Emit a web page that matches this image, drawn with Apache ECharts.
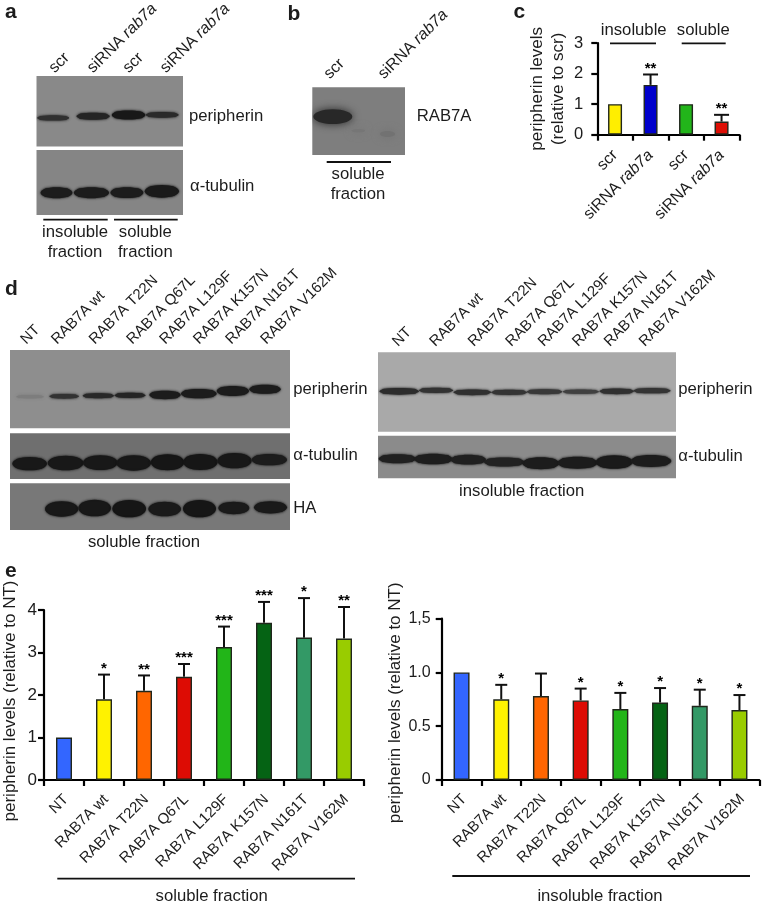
<!DOCTYPE html>
<html><head><meta charset="utf-8">
<style>html,body{margin:0;padding:0;background:#fff}#c{width:762px;height:903px}</style>
<script src="https://cdn.jsdelivr.net/npm/echarts@6/dist/echarts.min.js"></script>
</head><body><div id="c"></div>
<script>
// ---- quantified bar data ----
const cCats = ['scr','siRNA rab7a','scr','siRNA rab7a'];
const cValues = [1,1.63,1,0.43];
const cErrTop = [null,1.97,null,0.65];
const cStars = ['','**','','**'];
const cColors = ['#ffee00','#0000cc','#22b51a','#dd0f05'];
const mutants = ['NT','RAB7A wt','RAB7A T22N','RAB7A Q67L','RAB7A L129F','RAB7A K157N','RAB7A N161T','RAB7A V162M'];
const mutColors = ['#3366ff','#fff200','#ff6600','#dd0c04','#22b518','#056314','#339966','#99cc00'];
const solValues = [1,1.9,2.1,2.43,3.13,3.7,3.35,3.33];
const solErrTop = [null,2.48,2.46,2.73,3.61,4.19,4.28,4.07];
const solStars = ['','*','**','***','***','***','*','**'];
const insValues = [1,0.75,0.78,0.74,0.66,0.72,0.69,0.65];
const insErrTop = [null,0.885,0.99,0.85,0.81,0.855,0.84,0.79];
const insStars = ['','*','','*','*','*','*','*'];
const insTickLabels = ['0','0.5','1.0','1,5'];

// ---- blot bands: [laneStart, laneEnd, bandCentre, thickness, grey] ----
const aPeripherin = [[112,208,354,16,48],[230,330,349,21,36],[336,437,345,27,24],[438,537,345,17,42]];
const aTubulin = [[122,218,578,33,28],[222,328,578,33,28],[332,431,578,32,28],[435,538,574,38,26]];
const bRab7a = [[70,187,350,44,40],[185,225,392,10,118],[270,315,402,18,114]];
const dSolPeripherin = [[48,132,380,9,125],[148,237,379,14,50],[248,342,377,15,40],[343,437,376,16,36],[448,542,375,25,28],[543,650,371,28,28],[650,747,363,30,28],[748,842,358,27,28]];
const dSolTubulin = [[37,141,581,40,24],[143,251,579,44,24],[249,353,578,44,24],[349,453,579,46,24],[452,553,577,48,22],[549,653,576,48,22],[652,755,572,46,24],[755,861,569,34,28]];
const dSolHA = [[135,235,717,46,24],[235,333,714,50,24],[337,438,716,52,22],[445,543,717,44,26],[549,648,716,52,22],[655,748,714,37,26],[762,861,712,37,26]];
const dInsPeripherin = [[28,147,364,20,44],[146,250,361,16,50],[250,364,367,17,48],[363,472,367,16,52],[470,577,365,15,56],[578,687,365,13,64],[688,792,364,17,48],[790,902,362,16,52]];
const dInsTubulin = [[26,138,566,27,32],[132,248,567,32,30],[242,348,569,29,32],[342,463,576,27,34],[457,568,580,36,28],[562,683,578,36,28],[677,788,576,41,26],[782,904,573,36,28]];

// ---- text ----
const aLaneLabels = ['scr','siRNA rab7a','scr','siRNA rab7a'];
const bLaneLabels = ['scr','siRNA rab7a'];
const dLaneLabels = mutants;

const FONT = '"Liberation Sans", Arial, sans-serif';
const INK = '#1c1c1c';

function italicise(s){ return s.replace('rab7a','{i|rab7a}'); }
const richI = {i:{fontStyle:'italic',fontSize:16,fontFamily:FONT,fill:INK,color:INK}};

const grids=[], xAxes=[], yAxes=[], series=[];

function addBlot(rect, xr, yr, bg, bands, blur){
  const g = grids.length;
  grids.push({show:true,left:rect[0],top:rect[1],width:rect[2],height:rect[3],backgroundColor:bg,borderWidth:0,containLabel:false,outerBoundsMode:'none'});
  xAxes.push({gridIndex:g,type:'value',show:false,min:xr[0],max:xr[1]});
  yAxes.push({gridIndex:g,type:'value',show:false,min:yr[0],max:yr[1],inverse:true});
  series.push({type:'custom',xAxisIndex:g,yAxisIndex:g,clip:true,silent:true,data:bands,
    encode:{x:[0,1],y:2},
    renderItem:function(p,api){
      const a=api.coord([api.value(0),api.value(2)]), b=api.coord([api.value(1),api.value(2)]);
      const t=api.size([0,api.value(3)])[1];
      const v=api.value(4), col='rgb('+v+','+v+','+v+')', w=b[0]-a[0];
      const st={fill:col,shadowBlur:blur||2.5,shadowColor:col};
      const kids=[{type:'ellipse',shape:{cx:a[0]+w/2,cy:a[1],rx:w/2,ry:t/2},style:st}];
      if(!blur) kids.push({type:'rect',shape:{x:a[0]+w*0.06,y:a[1]-t*0.38,width:w*0.88,height:t*0.76,r:t*0.38},style:st});
      return {type:'group',children:kids};
    }});
}

function addBars(rect, cats, colors, vals, tops, stars, yCfg, o){
  const g = grids.length;
  grids.push({left:rect[0],top:rect[1],width:rect[2],height:rect[3],containLabel:false,outerBoundsMode:'none'});
  xAxes.push({gridIndex:g,type:'category',data:cats,
    axisLine:{lineStyle:{color:'#000',width:2.2}},
    axisTick:{show:true,length:6,lineStyle:{color:'#000',width:2.2}},
    axisLabel:{interval:0,rotate:45,margin:o.xMargin,padding:[o.xPad||0,0,0,0],fontSize:o.xFont,fontFamily:FONT,color:INK,
      formatter:function(v){return italicise(v);},
      rich:{i:{fontStyle:'italic',fontSize:o.xFont,fontFamily:FONT,color:INK}}}});
  yAxes.push({gridIndex:g,type:'value',min:0,max:yCfg.max,interval:yCfg.interval,splitLine:{show:false},
    name:o.name,nameLocation:'middle',nameGap:o.nameGap,nameRotate:90,nameMoveOverlap:false,
    nameTextStyle:{fontSize:o.nameFont,fontFamily:FONT,color:INK,lineHeight:21,padding:o.namePad||0},
    axisLine:{show:true,onZero:false,lineStyle:{color:'#000',width:2.2}},
    axisTick:{show:true,length:6,lineStyle:{color:'#000',width:2.2}},
    axisLabel:{margin:o.yMargin,fontSize:o.yFont,fontFamily:FONT,color:INK,formatter:yCfg.fmt}});
  series.push({type:'bar',xAxisIndex:g,yAxisIndex:g,barWidth:o.barW,z:2,silent:true,
    data:vals.map(function(v,i){return {value:v,itemStyle:{color:colors[i],borderColor:'#20261c',borderWidth:1.4}};})});
  series.push({type:'custom',xAxisIndex:g,yAxisIndex:g,z:1,silent:true,clip:false,
    data:vals.map(function(v,i){return [i,v,tops[i]];}),
    encode:{x:0,y:[1,2]},
    renderItem:function(p,api){
      const i=api.value(0), top=tops[i];
      if(top==null) return {type:'group',children:[]};
      const a=api.coord([i,api.value(1)]), b=api.coord([i,top]);
      const ls={stroke:'#111',lineWidth:2};
      return {type:'group',children:[
        {type:'line',shape:{x1:a[0],y1:a[1],x2:b[0],y2:b[1]},style:ls},
        {type:'line',shape:{x1:b[0]-o.cap/2,y1:b[1],x2:b[0]+o.cap/2,y2:b[1]},style:ls},
        {type:'text',style:{text:stars[i],x:b[0],y:b[1]+o.starDy,align:'center',verticalAlign:'middle',
          fontSize:o.starFont,fontWeight:'bold',fontFamily:FONT,fill:'#000'}}
      ]};
    }});
}

// ---- blots ----
addBlot([36.5,76,146.5,70.5],[110,550],[228,440],'#898989',aPeripherin);
addBlot([36.5,150,146.5,65],[110,550],[450,645],'#858585',aTubulin);
addBlot([312.3,87.3,92.7,67.7],[67,345],[262,465],'#7e7e7e',bRab7a,9);
addBlot([10,350,280,78.3],[30,870],[240,475],'#8e8e8e',dSolPeripherin);
addBlot([10,433.3,280,45.7],[30,870],[490,627],'#6f6f6f',dSolTubulin);
addBlot([10,483.3,280,46.7],[30,870],[640,780],'#787878',dSolHA);
addBlot([378,352.3,298,79.4],[24,918],[247,485],'#a9a9a9',dInsPeripherin);
addBlot([378,435.7,298,42.6],[24,918],[497,625],'#8b8b8b',dInsTubulin);

// ---- bar charts ----
addBars([597.3,43,142,91.7],cCats,cColors,cValues,cErrTop,cStars,{max:3,interval:1},
  {xMargin:18,xFont:16,yMargin:14,yFont:16.5,barW:14,cap:15,starDy:-6,starFont:15,
   name:'peripherin levels\n(relative to scr)',nameGap:28,nameFont:17});
addBars([44,610,320,170],mutants,mutColors,solValues,solErrTop,solStars,{max:4,interval:1},
  {xMargin:15,xPad:6,xFont:15,yMargin:7,yFont:17,barW:16,cap:12,starDy:-6,starFont:15,
   name:'peripherin levels (relative to NT)',nameGap:23.5,nameFont:17,namePad:[0,12,0,0]});
addBars([441.7,618.7,317.6,161.3],mutants,mutColors,insValues,insErrTop,insStars,
  {max:1.5,interval:0.5,fmt:function(v){return insTickLabels[Math.round(v/0.5)];}},
  {xMargin:14,xPad:8,xFont:15,yMargin:11,yFont:16,barW:16,cap:12,starDy:-6,starFont:15,
   name:'peripherin levels (relative to NT)',nameGap:36,nameFont:17,namePad:[0,7,0,0]});

// ---- free text and rules ----
const gfx=[];
function txt(s,x,y,opt){ opt=opt||{};
  gfx.push({type:'text',x:x,y:y,rotation:opt.rot||0,silent:true,
    style:{text:s,fontSize:opt.size||16.7,fontWeight:opt.weight||'normal',fontFamily:FONT,fill:INK,
      align:opt.align||'left',verticalAlign:'middle',rich:richI}});
}
function rule(x1,x2,y){ gfx.push({type:'line',silent:true,shape:{x1:x1,y1:y,x2:x2,y2:y},style:{stroke:'#111',lineWidth:1.8}}); }
const R45=Math.PI/4;
['a','b','c','d','e'].forEach(function(l,i){
  const p=[[5,12],[287.5,14],[513.5,12],[5,289],[5,571]][i];
  txt(l,p[0],p[1],{size:21,weight:'bold'});
});
[51.7,90,125.7,163].forEach(function(x,i){ txt(italicise(aLaneLabels[i]),x,70.5,{rot:R45,size:16}); });
[326.7,381].forEach(function(x,i){ txt(italicise(bLaneLabels[i]),x,76.5,{rot:R45,size:16}); });
[23.3,54,91.7,129.3,162.3,196,228.3,263.3].forEach(function(x,i){ txt(dLaneLabels[i],x,341.7,{rot:R45,size:15}); });
[395,432.3,470.7,508.3,540.7,575,606.7,641.7].forEach(function(x,i){ txt(dLaneLabels[i],x,344,{rot:R45,size:15}); });
txt('peripherin',189,116); txt('α-tubulin',190,186);
rule(43.3,107.7,219.7); rule(114,177.7,219.7);
txt('insoluble',75,232.3,{align:'center'}); txt('fraction',75,252,{align:'center'});
txt('soluble',145.3,232.3,{align:'center'}); txt('fraction',145.3,252,{align:'center'});
txt('RAB7A',416.7,116.7);
rule(326.7,391,162); txt('soluble',358,174,{align:'center'}); txt('fraction',358,194,{align:'center'});
txt('insoluble',633.7,30,{align:'center'}); txt('soluble',703.3,30,{align:'center'});
rule(610,656,43.3); rule(681.7,725.7,43.3);
txt('peripherin',293.3,389); txt('α-tubulin',293.3,455); txt('HA',293.3,508.3);
txt('soluble fraction',144,542.7,{align:'center'});
txt('peripherin',678.3,389.3); txt('α-tubulin',678.3,456);
txt('insoluble fraction',521.7,491,{align:'center'});
rule(57.3,355,878.7); txt('soluble fraction',211.7,896.7,{align:'center'});
rule(452.3,750,876); txt('insoluble fraction',600,896.7,{align:'center'});

const chart=echarts.init(document.getElementById('c'),null,{renderer:'canvas'});
chart.setOption({animation:false,backgroundColor:'#fff',tooltip:{show:false},
  grid:grids,xAxis:xAxes,yAxis:yAxes,series:series,graphic:{elements:gfx}});
</script></body></html>
